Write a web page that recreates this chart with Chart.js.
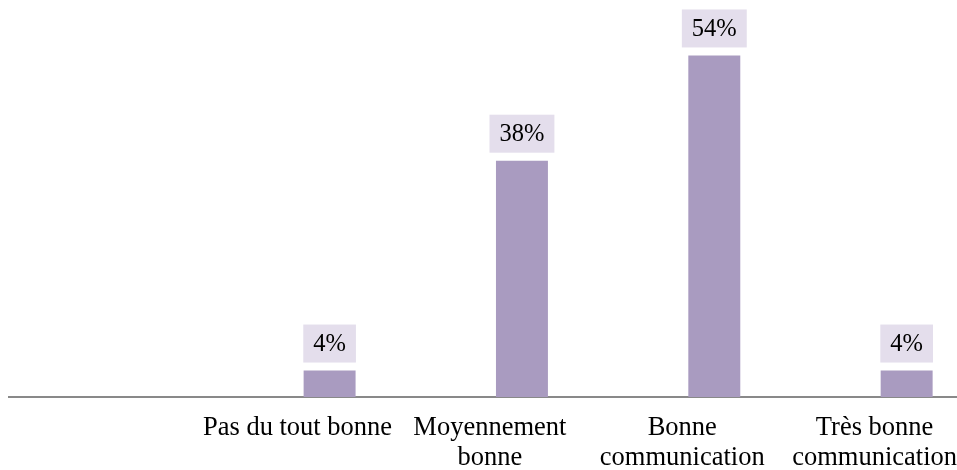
<!DOCTYPE html>
<html>
<head>
<meta charset="utf-8">
<script src="https://cdn.jsdelivr.net/npm/chart.js@4/dist/chart.umd.min.js"></script>
<style>
    html, body { margin: 0; padding: 0; overflow: hidden; background: #fff; }
    #wrap { width: 973px; height: 489px; }
</style>
</head>
<body>
<div id="wrap"><canvas id="barChart"></canvas></div>
<script>
// first category is empty in the original chart
const categories = ["", "Pas du tout bonne", ["Moyennement", "bonne"], ["Bonne", "communication"], ["Très bonne", "communication"]];
const shares = [null, 4.2, 37.5, 54.2, 4.2];
const shareLabels = ["", "4%", "38%", "54%", "4%"];
const emptySeries = [null, null, null, null, null];

const barColor = "#a99bc0";
const boxColor = "#e4deec";
const fontFamily = "'Liberation Serif', 'Times New Roman', serif";

// draws the percentage boxes above each bar
const valueBoxes = {
    id: "valueBoxes",
    afterDatasetsDraw(chart) {
        var ctx = chart.ctx;
        var meta = chart.getDatasetMeta(1);
        ctx.save();
        ctx.font = "24.5px " + fontFamily;
        ctx.textAlign = "center";
        ctx.textBaseline = "middle";
        meta.data.forEach(function(bar, i) {
            if (shares[i] == null) return;
            var text = shareLabels[i];
            var w = ctx.measureText(text).width + 20;
            var h = 38;
            var bottom = bar.y - 8;
            ctx.fillStyle = boxColor;
            ctx.fillRect(bar.x - w / 2, bottom - h, w, h);
            ctx.fillStyle = "#000";
            ctx.fillText(text, bar.x, bottom - h / 2 + 1);
        });
        ctx.restore();
    }
};

window.onload = function() {
    var context = document.getElementById("barChart").getContext("2d");
    new Chart(context, {
        type: "bar",
        data: {
            labels: categories,
            datasets: [{
                data: emptySeries,
                backgroundColor: barColor
            }, {
                data: shares,
                backgroundColor: barColor,
                borderWidth: 0
            }]
        },
        options: {
            responsive: true,
            maintainAspectRatio: false,
            animation: false,
            categoryPercentage: 0.667,
            barPercentage: 0.81,
            layout: { padding: { left: 9, right: 0, top: 0, bottom: 0 } },
            plugins: {
                legend: { display: false },
                tooltip: { enabled: false }
            },
            scales: {
                x: {
                    grid: { display: false, drawTicks: false },
                    border: { color: "#898989", width: 2 },
                    ticks: {
                        color: "#000",
                        padding: 16,
                        maxRotation: 0,
                        autoSkip: false,
                        font: { family: fontFamily, size: 26.5, lineHeight: "30px" }
                    }
                },
                y: {
                    display: false,
                    min: 0,
                    max: 63
                }
            }
        },
        plugins: [valueBoxes]
    });
};
</script>
</body>
</html>
